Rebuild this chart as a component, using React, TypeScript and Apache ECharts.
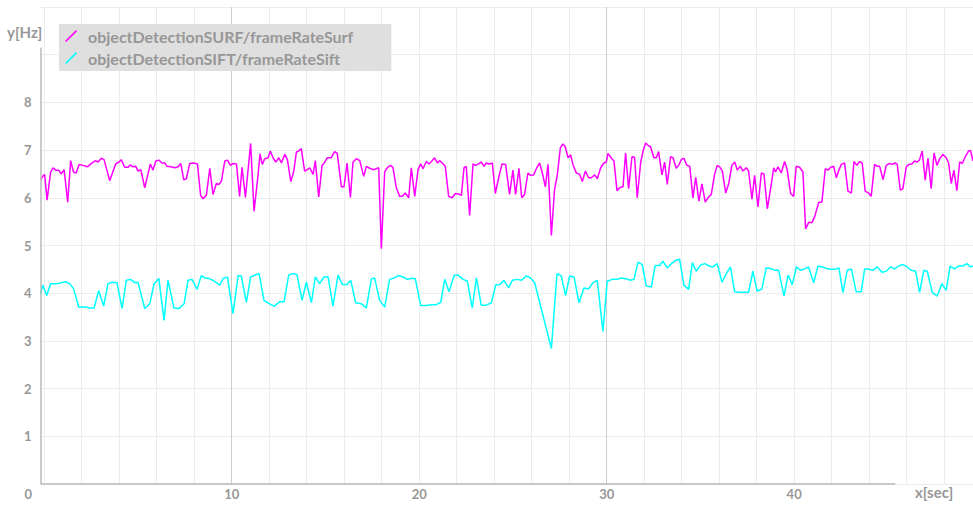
import React, { useEffect, useRef } from "react";
import * as echarts from "echarts";

const surfName = "objectDetectionSURF/frameRateSurf";
const siftName = "objectDetectionSIFT/frameRateSift";

const surfPoints: [number, number][] = [
  [-0.19,6.38],[-0.08,6.45],[0.02,6.49],[0.15,5.95],[0.34,6.54],[0.47,6.63],[0.61,6.58],[0.77,6.58],[0.91,6.50],[1.06,6.59],[1.25,5.91],[1.41,6.78],[1.56,6.54],[1.70,6.52],[1.86,6.70],[2.07,6.68],[2.30,6.65],[2.52,6.72],[2.73,6.78],[2.87,6.75],[3.05,6.83],[3.19,6.80],[3.49,6.36],[3.81,6.71],[3.99,6.75],[4.11,6.80],[4.29,6.64],[4.47,6.64],[4.59,6.69],[4.74,6.65],[4.88,6.66],[5.00,6.56],[5.15,6.59],[5.36,6.21],[5.66,6.71],[5.80,6.58],[5.95,6.77],[6.11,6.79],[6.28,6.73],[6.43,6.73],[6.55,6.66],[6.75,6.65],[6.96,6.63],[7.14,6.65],[7.28,6.72],[7.44,6.38],[7.58,6.40],[7.76,6.72],[7.97,6.73],[8.17,6.71],
  [8.34,6.05],[8.47,5.98],[8.65,6.06],[8.83,6.62],[9.0,6.07],[9.18,6.30],[9.31,6.28],[9.45,6.35],[9.63,6.77],[9.77,6.79],[9.93,6.68],[10.07,6.72],[10.25,6.71],[10.42,6.03],[10.55,6.64],[10.73,6.01],[11.01,7.14],[11.19,5.72],[11.37,6.35],[11.51,6.92],[11.63,6.70],[11.76,6.82],[11.94,6.84],[12.06,6.98],[12.2,6.84],[12.35,6.75],[12.51,6.84],[12.65,6.73],[12.83,6.91],[12.97,6.80],[13.15,6.34],[13.31,6.56],[13.45,6.96],[13.57,6.98],[13.71,7.03],[13.89,6.56],[14.03,6.59],[14.16,6.63],[14.34,6.49],[14.46,6.78],[14.64,6.02],[14.82,6.68],[14.92,6.72],[15.1,6.84],[15.31,6.84],[15.49,6.97],[15.63,6.93],[15.85,6.23],[15.99,6.23],[16.15,6.73],[16.33,6.01],[16.47,6.75],[16.65,6.82],[16.83,6.78],
  [17.04,6.45],[17.18,6.66],[17.36,6.62],[17.54,6.59],[17.71,6.61],[17.84,6.63],[17.98,4.93],[18.16,6.55],[18.3,6.63],[18.46,6.68],[18.6,6.64],[18.78,6.21],[18.96,6.03],[19.1,6.03],[19.26,6.10],[19.44,6.0],[19.58,6.63],[19.76,6.03],[19.94,6.59],[20.08,6.71],[20.2,6.61],[20.38,6.76],[20.52,6.71],[20.68,6.77],[20.82,6.84],[20.97,6.73],[21.09,6.78],[21.23,6.73],[21.39,6.66],[21.57,6.03],[21.75,6.0],[21.93,6.09],[22.1,6.08],[22.25,6.05],[22.39,6.63],[22.51,6.66],[22.69,5.63],[22.87,6.71],[22.99,6.68],[23.17,6.71],[23.31,6.75],[23.46,6.66],[23.58,6.73],[23.72,6.71],[23.9,6.73],[24.06,6.09],[24.24,6.42],[24.42,6.71],[24.61,6.70],[24.82,6.07],[25.0,6.58],[25.14,6.07],[25.32,6.62],
  [25.47,6.0],[25.62,6.07],[25.8,6.52],[25.94,6.47],[26.1,6.48],[26.25,6.61],[26.42,6.73],[26.57,6.52],[26.73,6.23],[26.87,6.70],[27.05,5.21],[27.22,6.17],[27.37,6.49],[27.53,7.05],[27.67,7.13],[27.79,7.07],[27.94,6.84],[28.08,6.90],[28.2,6.70],[28.38,6.52],[28.56,6.49],[28.7,6.34],[28.86,6.56],[29.04,6.42],[29.18,6.42],[29.36,6.48],[29.5,6.40],[29.68,6.63],[29.86,6.73],[29.98,6.75],[30.07,6.93],[30.25,6.83],[30.39,6.77],[30.55,6.15],[30.69,6.21],[30.87,6.23],[31.01,6.94],[31.17,6.19],[31.35,6.86],[31.49,6.85],[31.63,6.0],[31.81,6.73],[31.94,6.98],[32.08,7.15],[32.2,7.10],[32.34,7.07],[32.52,6.84],[32.65,6.84],[32.77,6.97],[32.95,6.48],[33.09,6.75],[33.23,6.28],[33.41,6.86],[33.54,6.84],[33.71,6.62],
  [33.85,6.69],[33.98,6.80],[34.12,6.83],[34.28,6.68],[34.43,6.66],[34.6,6.0],[34.75,6.43],[34.92,5.93],[35.08,6.29],[35.26,5.91],[35.4,6.0],[35.58,6.07],[35.76,6.50],[35.9,6.68],[36.03,6.65],[36.17,6.56],[36.35,6.10],[36.51,6.30],[36.68,6.68],[36.83,6.75],[36.97,6.58],[37.13,6.66],[37.27,6.56],[37.45,6.63],[37.57,6.56],[37.75,5.97],[37.89,6.47],[38.07,5.81],[38.25,6.52],[38.39,6.50],[38.57,5.77],[38.75,6.21],[38.91,6.63],[39.01,6.54],[39.14,6.65],[39.31,6.52],[39.49,6.76],[39.63,6.59],[39.81,6.09],[39.97,6.03],[40.11,6.66],[40.29,6.64],[40.47,6.54],[40.61,5.35],[40.77,5.48],[40.95,5.48],[41.09,5.60],[41.31,5.90],[41.48,5.91],[41.66,6.61],[41.8,6.58],[41.95,6.64],[42.11,6.66],[42.25,6.42],[42.36,6.55],
  [42.51,6.70],[42.69,6.73],[42.87,6.14],[43.05,6.10],[43.19,6.76],[43.35,6.68],[43.49,6.76],[43.63,6.73],[43.79,6.14],[43.97,6.10],[44.11,6.03],[44.29,6.70],[44.43,6.66],[44.56,6.66],[44.74,6.38],[44.91,6.68],[45.09,6.72],[45.23,6.70],[45.39,6.73],[45.5,6.70],[45.66,6.16],[45.8,6.19],[45.98,6.65],[46.12,6.70],[46.28,6.71],[46.42,6.77],[46.57,6.75],[46.69,6.80],[46.83,6.98],[46.99,6.37],[47.14,6.83],[47.31,6.19],[47.46,6.94],[47.62,6.68],[47.76,6.82],[47.94,6.91],[48.11,6.84],[48.24,6.73],[48.38,6.30],[48.52,6.58],[48.68,6.15],[48.83,6.75],[48.97,6.72],[49.14,6.87],[49.3,6.98],[49.41,6.99],[49.54,6.77]
];

const siftPoints: [number, number][] = [
  [-0.19,3.99],[-0.08,4.17],[0.13,3.95],[0.34,4.20],[0.65,4.20],[0.91,4.22],[1.13,4.24],[1.36,4.20],[1.57,4.09],[1.84,3.71],[2.16,3.71],[2.43,3.69],[2.66,3.69],[2.90,4.05],[3.17,3.73],[3.40,4.20],[3.62,4.23],[3.88,4.22],[4.15,3.68],[4.38,4.27],[4.61,4.29],[4.83,4.22],[5.00,4.23],[5.36,3.68],[5.63,3.78],[5.86,4.20],[6.11,4.31],[6.39,3.43],[6.60,4.27],[6.92,3.69],[7.19,3.68],[7.46,3.78],[7.67,4.27],[7.88,4.29],[8.15,4.08],[8.38,4.37],
  [8.56,4.32],[8.77,4.31],[9.0,4.27],[9.18,4.22],[9.36,4.17],[9.54,4.31],[9.77,4.34],[10.07,3.57],[10.34,4.37],[10.51,4.36],[10.78,3.81],[11.01,4.34],[11.23,4.38],[11.46,4.41],[11.72,3.85],[11.99,3.78],[12.26,3.73],[12.56,3.82],[12.79,3.82],[13.04,4.38],[13.27,4.41],[13.48,4.39],[13.75,3.85],[13.98,4.23],[14.25,3.80],[14.46,4.34],[14.69,4.20],[14.92,4.34],[15.14,4.34],[15.4,3.73],[15.67,4.38],[15.9,4.18],[16.15,4.18],[16.35,4.27],[16.61,3.80],[16.91,3.78],
  [17.18,3.69],[17.45,4.30],[17.62,4.32],[17.89,3.85],[18.16,3.71],[18.42,4.29],[18.66,4.32],[18.9,4.37],[19.14,4.34],[19.37,4.29],[19.58,4.31],[19.79,4.31],[20.08,3.74],[20.38,3.74],[20.68,3.76],[20.91,3.76],[21.15,3.81],[21.36,4.29],[21.59,4.03],[21.86,4.37],[22.07,4.38],[22.34,4.29],[22.57,4.25],[22.83,3.69],[23.05,4.32],[23.31,3.75],[23.58,3.75],[23.85,3.80],[24.08,4.17],[24.29,4.18],[24.52,4.27],[24.77,4.11],[24.97,4.27],[25.23,4.29],[25.45,4.27],
  [25.71,4.36],[25.94,4.32],[26.16,4.22],[27.05,2.84],[27.35,4.41],[27.58,4.36],[27.81,3.95],[28.02,4.36],[28.26,4.34],[28.52,3.80],[28.79,4.11],[29.04,4.09],[29.27,4.22],[29.5,4.27],[29.8,3.20],[30.03,4.25],[30.3,4.29],[30.55,4.29],[30.78,4.32],[31.05,4.30],[31.26,4.27],[31.46,4.29],[31.67,4.65],[31.9,4.60],[32.11,4.15],[32.38,4.13],[32.59,4.58],[32.82,4.58],[33.0,4.67],[33.23,4.53],[33.45,4.62],[33.68,4.69],[33.89,4.71],
  [34.12,4.17],[34.37,4.08],[34.57,4.64],[34.78,4.46],[35.01,4.59],[35.23,4.62],[35.46,4.57],[35.67,4.55],[35.9,4.62],[36.15,4.23],[36.38,4.41],[36.6,4.55],[36.83,4.03],[37.09,4.02],[37.36,4.02],[37.57,4.02],[37.8,4.46],[38.03,4.04],[38.28,4.09],[38.51,4.53],[38.75,4.52],[38.96,4.48],[39.17,4.48],[39.46,3.94],[39.67,4.38],[39.9,4.18],[40.12,4.55],[40.35,4.48],[40.56,4.51],[40.77,4.55],[41.04,4.22],[41.27,4.57],[41.5,4.55],[41.71,4.52],[41.95,4.50],[42.16,4.50],[42.39,4.53],
  [42.6,4.01],[42.83,4.48],[43.05,4.51],[43.31,4.03],[43.58,4.03],[43.76,4.51],[43.99,4.50],[44.2,4.48],[44.43,4.55],[44.68,4.44],[44.91,4.46],[45.14,4.55],[45.36,4.51],[45.57,4.57],[45.8,4.60],[46.03,4.55],[46.25,4.48],[46.48,4.46],[46.69,4.02],[46.92,4.48],[47.1,4.46],[47.37,4.01],[47.63,3.94],[47.88,4.20],[48.11,4.06],[48.32,4.57],[48.56,4.51],[48.77,4.57],[49.0,4.57],[49.21,4.62],[49.41,4.55],[49.54,4.57]
];

const xGridTicks = [0, 2, 4, 6, 8, 10, 12, 14, 16, 18, 20, 22, 24, 26, 28, 30, 32, 34, 36, 38, 40, 42, 44, 46, 48];
const xLabelTicks = [0, 10, 20, 30, 40];
const yLabelTicks = [1, 2, 3, 4, 5, 6, 7, 8];

const X_MIN = -0.2;
const X_MAX = 49.54;
const X_AXIS_END = 45.4;
const Y_AXIS_TOP = 9.15;

const FONT = "Lato, 'Open Sans', sans-serif";
const TEXT_COLOR = "#979797";
const MINOR = "#ececec";
const MAJOR = "#cdcdcd";

export default function App() {
  const ref = useRef<HTMLDivElement>(null);
  useEffect(() => {
    if (!ref.current) return;
    const chart = echarts.init(ref.current, undefined, { renderer: "svg" });
    const axisLineStyle = { color: "#b9b9b9", width: 1.5, type: "solid" as const };
    chart.setOption({
      animation: false,
      backgroundColor: "#ffffff",
      grid: { left: 40.5, right: 0, top: 7, bottom: 21, containLabel: false },
      legend: {
        data: [surfName, siftName],
        orient: "vertical",
        left: 59,
        top: 24,
        backgroundColor: "#dfdfdf",
        padding: [4, 38, 5, 6],
        itemWidth: 12,
        itemHeight: 12,
        itemGap: 6,
        selectedMode: false,
        icon: "path://M0,11 L1.2,12 L12,1.2 L11,0 Z",
        textStyle: {
          fontFamily: FONT,
          fontSize: 16,
          fontWeight: "bold",
          color: TEXT_COLOR,
          lineHeight: 16,
          padding: [0, 0, 0, 6],
        },
      },
      xAxis: {
        type: "value",
        min: X_MIN,
        max: X_MAX,
        axisLine: { show: false },
        axisTick: { show: false, customValues: xGridTicks },
        axisLabel: {
          customValues: xLabelTicks,
          margin: 3,
          fontFamily: FONT,
          fontSize: 13,
          fontWeight: "bold",
          color: TEXT_COLOR,
          formatter: (v: number) => (v === 0 ? "{z|0}" : String(v)),
          rich: {
            z: { fontFamily: FONT, fontSize: 13, fontWeight: "bold", color: TEXT_COLOR, padding: [0, 32, 0, 0] },
          },
        },
        splitLine: {
          show: true,
          showMinLine: true,
          lineStyle: { color: [MINOR, MINOR, MINOR, MINOR, MINOR, MAJOR, MINOR, MINOR, MINOR, MINOR], width: 1 },
        },
      },
      yAxis: {
        type: "value",
        min: 0,
        max: 10,
        interval: 1,
        axisLine: { show: false },
        axisTick: { show: false },
        axisLabel: {
          margin: 9,
          fontFamily: FONT,
          fontSize: 13,
          fontWeight: "bold",
          color: TEXT_COLOR,
          formatter: (v: number) => (yLabelTicks.indexOf(v) >= 0 ? String(v) : ""),
        },
        splitLine: { show: true, lineStyle: { color: MINOR, width: 1 } },
      },
      graphic: [
        {
          type: "text",
          left: 7,
          top: 24,
          style: { text: "y[Hz]", fontFamily: FONT, fontSize: 15, fontWeight: "bold", fill: TEXT_COLOR },
        },
        {
          type: "text",
          left: 915,
          top: 484,
          style: { text: "x[sec]", fontFamily: FONT, fontSize: 15, fontWeight: "bold", fill: TEXT_COLOR },
        },
      ],
      series: [
        {
          name: surfName,
          type: "line",
          data: surfPoints,
          showSymbol: false,
          color: "#ff00ff",
          lineStyle: { color: "#ff00ff", width: 1.5 },
          itemStyle: { color: "#ff00ff" },
          z: 3,
          markLine: {
            silent: true,
            symbol: ["none", "none"],
            label: { show: false },
            lineStyle: axisLineStyle,
            data: [
              [{ coord: [X_MIN + 0.01, 0] }, { coord: [X_AXIS_END, 0] }],
              [{ coord: [X_MIN + 0.01, 0] }, { coord: [X_MIN + 0.01, Y_AXIS_TOP] }],
            ],
          },
        },
        {
          name: siftName,
          type: "line",
          data: siftPoints,
          showSymbol: false,
          color: "#00ffff",
          lineStyle: { color: "#00ffff", width: 1.5 },
          itemStyle: { color: "#00ffff" },
          z: 3,
        },
      ],
    });
    return () => chart.dispose();
  }, []);
  return (
    <div
      ref={ref}
      style={{ position: "fixed", left: 0, top: 0, width: 973, height: 505, background: "#fff" }}
    />
  );
}
